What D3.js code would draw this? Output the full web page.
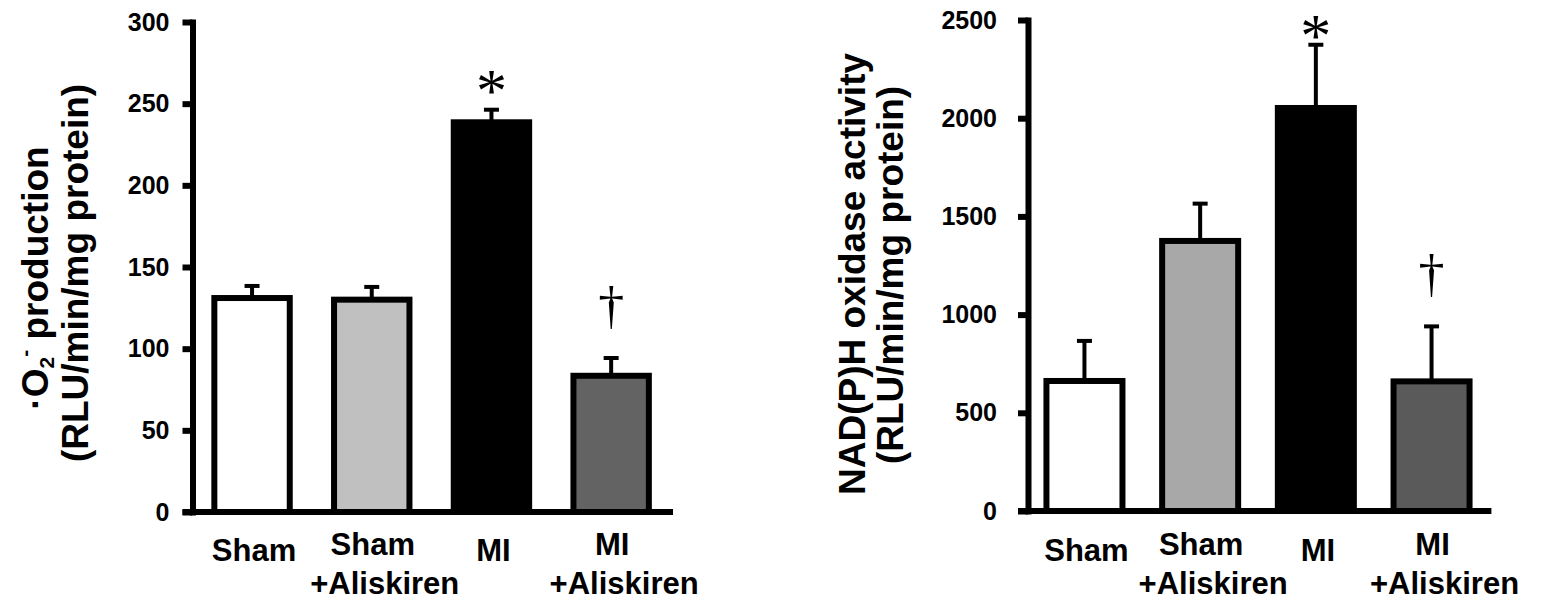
<!DOCTYPE html>
<html>
<head>
<meta charset="utf-8">
<script src="https://cdn.jsdelivr.net/npm/d3@7"></script>
<style>
  html, body { margin: 0; padding: 0; background: #ffffff; }
  svg { display: block; }
  text { font-family: "Liberation Sans", Arial, Helvetica, sans-serif; font-weight: bold; fill: #000; }
  .mark { font-family: "Liberation Serif", "Times New Roman", serif; font-weight: normal; }
</style>
</head>
<body>
<svg id="chart" width="1541" height="601"></svg>
<script>
// Groups (one array of label lines per bar)
const categoryLines = [["Sham"], ["Sham", "+Aliskiren"], ["MI"], ["MI", "+Aliskiren"]];

// Superoxide production, RLU/min/mg protein (mean and SEM)
const o2Values = [131, 130, 238.6, 83.4];
const o2Errors = [7.4, 7.8, 7.7, 10.9];
const o2Ticks = [0, 50, 100, 150, 200, 250, 300];
const o2Marks = ["", "", "*", "†"];
const o2Fills = ["#ffffff", "#c0c0c0", "#000000", "#636363"];

// NAD(P)H oxidase activity, RLU/min/mg protein (mean and SEM)
const noxValues = [662, 1375, 2052, 660];
const noxErrors = [204, 190, 322, 280];
const noxTicks = [0, 500, 1000, 1500, 2000, 2500];
const noxMarks = ["", "", "*", "†"];
const noxFills = ["#ffffff", "#a8a8a8", "#000000", "#5a5a5a"];

const svg = d3.select("#chart");

const STAR_SIZE = 62, DAGGER_SIZE = 52;

function drawPanel(opt) {
  const g = svg.append("g");
  const keys = opt.values.map((_, i) => i);

  const y = d3.scaleLinear().domain([0, d3.max(opt.ticks)]).range(opt.yRange);
  const x = d3.scaleBand().domain(keys).range(opt.xRange)
    .paddingInner(opt.padInner).paddingOuter(opt.padInner / 2);

  // bars
  g.selectAll("rect.bar").data(keys).join("rect")
    .attr("class", "bar")
    .attr("x", i => x(i))
    .attr("width", x.bandwidth())
    .attr("y", i => y(opt.values[i]))
    .attr("height", i => y(0) - y(opt.values[i]))
    .attr("fill", i => opt.fills[i])
    .attr("stroke", "#000")
    .attr("stroke-width", 6);

  // error bars (upper half only)
  const cx = i => x(i) + x.bandwidth() / 2;
  const top = i => y(opt.values[i] + opt.errors[i]);
  g.selectAll("line.stem").data(keys).join("line")
    .attr("class", "stem")
    .attr("x1", cx).attr("x2", cx)
    .attr("y1", i => y(opt.values[i]))
    .attr("y2", top)
    .attr("stroke", "#000").attr("stroke-width", 4);
  g.selectAll("line.cap").data(keys).join("line")
    .attr("class", "cap")
    .attr("x1", i => cx(i) - 7.5).attr("x2", i => cx(i) + 7.5)
    .attr("y1", top).attr("y2", top)
    .attr("stroke", "#000").attr("stroke-width", 4);

  // significance marks above the error bars (kept inside the canvas)
  const markY = i => opt.marks[i] === "*"
    ? Math.max(top(i) + 1.5, 0.891 * STAR_SIZE + 0.5)
    : top(i) - 35;
  g.selectAll("text.mark").data(keys.filter(i => opt.marks[i])).join("text")
    .attr("class", "mark")
    .attr("text-anchor", "middle")
    .attr("x", cx)
    .attr("y", markY)
    .attr("font-size", i => opt.marks[i] === "*" ? STAR_SIZE : DAGGER_SIZE)
    .text(i => opt.marks[i]);

  // x baseline
  g.append("line")
    .attr("x1", opt.axisX - 10).attr("x2", opt.xRange[1] + 2)
    .attr("y1", y(0)).attr("y2", y(0))
    .attr("stroke", "#000").attr("stroke-width", 6);

  // y axis
  const axis = g.append("g")
    .attr("transform", `translate(${opt.axisX},0)`)
    .call(d3.axisLeft(y).tickValues(opt.ticks).tickFormat(d3.format("d"))
      .tickSize(10).tickSizeOuter(0).tickPadding(opt.tickPadding));
  axis.attr("font-family", null).attr("font-size", null);
  axis.select(".domain").attr("stroke", "#000").attr("stroke-width", 6)
    .attr("stroke-linecap", "square");
  axis.selectAll(".tick line").attr("stroke", "#000").attr("stroke-width", 6);
  axis.selectAll(".tick text").attr("font-size", 25).attr("fill", "#000");

  // category labels
  keys.forEach(i => {
    const lines = categoryLines[i];
    const t = g.append("text").attr("text-anchor", "middle").attr("font-size", 31);
    if (lines.length === 1) {
      t.append("tspan").attr("x", cx(i) + 2).attr("y", 561).text(lines[0]);
    } else {
      t.append("tspan").attr("x", cx(i) + 1).attr("y", 555).text(lines[0]);
      t.append("tspan").attr("x", cx(i) + 13).attr("y", 594).text(lines[1]);
    }
  });

  // y title (two rotated lines)
  opt.title(g);
}

drawPanel({
  values: o2Values, errors: o2Errors, ticks: o2Ticks, marks: o2Marks, fills: o2Fills,
  yRange: [512, 22], xRange: [192.2, 671], padInner: 0.37,
  axisX: 192.5, tickPadding: 13,
  title: g => {
    const t1 = g.append("text").attr("text-anchor", "middle").attr("font-size", 37)
      .attr("transform", "translate(48,278) rotate(-90)");
    t1.append("tspan").text("·O");
    t1.append("tspan").attr("font-size", 21).attr("dy", 6).text("2");
    t1.append("tspan").attr("font-size", 21).attr("dy", -22).text("-");
    t1.append("tspan").attr("dy", 16).text(" production");
    g.append("text").attr("text-anchor", "middle").attr("font-size", 37)
      .attr("transform", "translate(88,273) rotate(-90)")
      .text("(RLU/min/mg protein)");
  }
});

drawPanel({
  values: noxValues, errors: noxErrors, ticks: noxTicks, marks: noxMarks, fills: noxFills,
  yRange: [511, 20], xRange: [1026.6, 1489.4], padInner: 0.343,
  axisX: 1028, tickPadding: 21,
  title: g => {
    g.append("text").attr("text-anchor", "middle").attr("font-size", 37)
      .attr("transform", "translate(865,274) rotate(-90)")
      .text("NAD(P)H oxidase activity");
    g.append("text").attr("text-anchor", "middle").attr("font-size", 37)
      .attr("transform", "translate(903,275) rotate(-90)")
      .text("(RLU/min/mg protein)");
  }
});
</script>
</body>
</html>
